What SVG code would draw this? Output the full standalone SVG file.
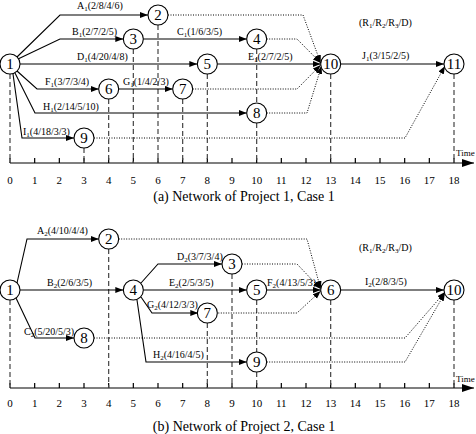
<svg xmlns="http://www.w3.org/2000/svg" width="476" height="434" viewBox="0 0 476 434">
<style>
text{font-family:"Liberation Serif","Times New Roman",serif;fill:#000}
.lbl{font-size:10px}
.sub{font-size:7px}
.num{font-size:15px;text-anchor:middle}
.tick{font-size:11px;text-anchor:middle}
.cap{font-size:14px;text-anchor:middle}
.time{font-size:9px}
circle{fill:#fff;stroke:#000;stroke-width:1.1}
.solid{fill:none;stroke:#000;stroke-width:1.1}
.dot{fill:none;stroke:#000;stroke-width:1;stroke-dasharray:1,1.5}
.dash{fill:none;stroke:#444;stroke-width:1.2;stroke-dasharray:5,3}
.axis{fill:none;stroke:#000;stroke-width:1.2}
</style>
<defs>
<marker id="ah" markerUnits="userSpaceOnUse" markerWidth="9" markerHeight="7" refX="8" refY="3" orient="auto"><path d="M0,0 L8,3 L0,6 z" fill="#000"/></marker>
<marker id="ax" markerUnits="userSpaceOnUse" markerWidth="13" markerHeight="9" refX="12" refY="4" orient="auto"><path d="M0,0 L12,4 L0,8 z" fill="#000"/></marker>
</defs>

<!-- ===== Diagram (a) ===== -->
<g id="axis-a">
<path class="axis" d="M10,163 L474,163" marker-end="url(#ax)"/>
<path class="axis" d="M10,158V163M34.67,158V163M59.33,158V163M84,158V163M108.67,158V163M133.33,158V163M158,158V163M182.67,158V163M207.33,158V163M232,158V163M256.67,158V163M281.33,158V163M306,158V163M330.67,158V163M355.33,158V163M380,158V163M404.67,158V163M429.33,158V163M454,158V163"/>
<text class="tick" x="10" y="184">0</text><text class="tick" x="34.67" y="184">1</text><text class="tick" x="59.33" y="184">2</text><text class="tick" x="84" y="184">3</text><text class="tick" x="108.67" y="184">4</text><text class="tick" x="133.33" y="184">5</text><text class="tick" x="158" y="184">6</text><text class="tick" x="182.67" y="184">7</text><text class="tick" x="207.33" y="184">8</text><text class="tick" x="232" y="184">9</text><text class="tick" x="256.67" y="184">10</text><text class="tick" x="281.33" y="184">11</text><text class="tick" x="306" y="184">12</text><text class="tick" x="330.67" y="184">13</text><text class="tick" x="355.33" y="184">14</text><text class="tick" x="380" y="184">15</text><text class="tick" x="404.67" y="184">16</text><text class="tick" x="429.33" y="184">17</text><text class="tick" x="454" y="184">18</text>
<text class="time" x="456" y="156">Time</text>
</g>
<g id="dashes-a">
<path class="dash" d="M10,74V163M84,148V163M108.67,99V163M133.33,49V163M158,25V163M182.67,99V163M207.33,74V163M256.67,49V103M256.67,123V163M330.67,74V163M454,74V163"/>
</g>
<g id="connectors-a">
<path class="solid" d="M17,57 L60,15 L148,15" marker-end="url(#ah)"/>
<path class="solid" d="M18,59 L60,39 L123.3,39" marker-end="url(#ah)"/>
<path class="solid" d="M20,64 L197.3,64" marker-end="url(#ah)"/>
<path class="solid" d="M17,71 L37,89 L98.7,89" marker-end="url(#ah)"/>
<path class="solid" d="M118.7,89 L172.7,89" marker-end="url(#ah)"/>
<path class="solid" d="M143.3,39 L246.7,39" marker-end="url(#ah)"/>
<path class="solid" d="M217.3,64 L320.7,64" marker-end="url(#ah)"/>
<path class="solid" d="M15,73 L35,113 L246.7,113" marker-end="url(#ah)"/>
<path class="solid" d="M13,74 L22,138 L74,138" marker-end="url(#ah)"/>
<path class="solid" d="M340.7,64 L444,64" marker-end="url(#ah)"/>
<path class="dot" d="M168,15 L303,15 L320.7,63" marker-end="url(#ah)"/>
<path class="dot" d="M266.7,39 L297,39 L320.7,63" marker-end="url(#ah)"/>
<path class="dot" d="M192.7,89 L297,89 L320.7,65" marker-end="url(#ah)"/>
<path class="dot" d="M266.7,113 L307,113 L321.5,66" marker-end="url(#ah)"/>
<path class="dot" d="M94,138 L405,138 L445,66" marker-end="url(#ah)"/>
</g>
<g id="labels-a">
<text class="lbl" x="77" y="9">A<tspan class="sub" dy="2">1</tspan><tspan dy="-2">(2/8/4/6)</tspan></text>
<text class="lbl" x="72" y="35">B<tspan class="sub" dy="2">1</tspan><tspan dy="-2">(2/7/2/5)</tspan></text>
<text class="lbl" x="177" y="35">C<tspan class="sub" dy="2">1</tspan><tspan dy="-2">(1/6/3/5)</tspan></text>
<text class="lbl" x="77" y="60">D<tspan class="sub" dy="2">1</tspan><tspan dy="-2">(4/20/4/8)</tspan></text>
<text class="lbl" x="248" y="60">E<tspan class="sub" dy="2">1</tspan><tspan dy="-2">(2/7/2/5)</tspan></text>
<text class="lbl" x="45" y="85">F<tspan class="sub" dy="2">1</tspan><tspan dy="-2">(3/7/3/4)</tspan></text>
<text class="lbl" x="123" y="85">G<tspan class="sub" dy="2">1</tspan><tspan dy="-2">(1/4/2/3)</tspan></text>
<text class="lbl" x="43" y="110">H<tspan class="sub" dy="2">1</tspan><tspan dy="-2">(2/14/5/10)</tspan></text>
<text class="lbl" x="23" y="135">I<tspan class="sub" dy="2">1</tspan><tspan dy="-2">(4/18/3/3)</tspan></text>
<text class="lbl" x="362" y="59">J<tspan class="sub" dy="2">1</tspan><tspan dy="-2">(3/15/2/5)</tspan></text>
<text class="lbl" x="359" y="26">(R<tspan class="sub" dy="2">1</tspan><tspan dy="-2">/R</tspan><tspan class="sub" dy="2">2</tspan><tspan dy="-2">/R</tspan><tspan class="sub" dy="2">3</tspan><tspan dy="-2">/D)</tspan></text>
</g>
<g id="a-n1"><circle cx="10" cy="64" r="10"/><text class="num" x="10" y="69">1</text></g>
<g id="a-n2"><circle cx="158" cy="15" r="10"/><text class="num" x="158" y="20">2</text></g>
<g id="a-n3"><circle cx="133.33" cy="39" r="10"/><text class="num" x="133.33" y="44">3</text></g>
<g id="a-n4"><circle cx="256.67" cy="39" r="10"/><text class="num" x="256.67" y="44">4</text></g>
<g id="a-n5"><circle cx="207.33" cy="64" r="10"/><text class="num" x="207.33" y="69">5</text></g>
<g id="a-n6"><circle cx="108.67" cy="89" r="10"/><text class="num" x="108.67" y="94">6</text></g>
<g id="a-n7"><circle cx="182.67" cy="89" r="10"/><text class="num" x="182.67" y="94">7</text></g>
<g id="a-n8"><circle cx="256.67" cy="113" r="10"/><text class="num" x="256.67" y="118">8</text></g>
<g id="a-n9"><circle cx="84" cy="138" r="10"/><text class="num" x="84" y="143">9</text></g>
<g id="a-n10"><circle cx="330.67" cy="64" r="10"/><text class="num" x="330.67" y="69">10</text></g>
<g id="a-n11"><circle cx="454" cy="64" r="10"/><text class="num" x="454" y="69">11</text></g>
<text class="cap" x="244" y="201">(a) Network of Project 1, Case 1</text>

<!-- ===== Diagram (b) ===== -->
<g id="axis-b">
<path class="axis" d="M10,388 L474,388" marker-end="url(#ax)"/>
<path class="axis" d="M10,383V388M34.67,383V388M59.33,383V388M84,383V388M108.67,383V388M133.33,383V388M158,383V388M182.67,383V388M207.33,383V388M232,383V388M256.67,383V388M281.33,383V388M306,383V388M330.67,383V388M355.33,383V388M380,383V388M404.67,383V388M429.33,383V388M454,383V388"/>
<text class="tick" x="10" y="407">0</text><text class="tick" x="34.67" y="407">1</text><text class="tick" x="59.33" y="407">2</text><text class="tick" x="84" y="407">3</text><text class="tick" x="108.67" y="407">4</text><text class="tick" x="133.33" y="407">5</text><text class="tick" x="158" y="407">6</text><text class="tick" x="182.67" y="407">7</text><text class="tick" x="207.33" y="407">8</text><text class="tick" x="232" y="407">9</text><text class="tick" x="256.67" y="407">10</text><text class="tick" x="281.33" y="407">11</text><text class="tick" x="306" y="407">12</text><text class="tick" x="330.67" y="407">13</text><text class="tick" x="355.33" y="407">14</text><text class="tick" x="380" y="407">15</text><text class="tick" x="404.67" y="407">16</text><text class="tick" x="429.33" y="407">17</text><text class="tick" x="454" y="407">18</text>
<text class="time" x="456" y="382">Time</text>
</g>
<g id="dashes-b">
<path class="dash" d="M10,300V388M108.67,249V388M207.33,323V388M232,274V388M256.67,300V352M256.67,372V388M330.67,300V388M454,300V388"/>
</g>
<g id="connectors-b">
<path class="solid" d="M17,283 L27,239 L98.7,239" marker-end="url(#ah)"/>
<path class="solid" d="M20,290 L123.3,290" marker-end="url(#ah)"/>
<path class="solid" d="M16,298 L35,338 L74,338" marker-end="url(#ah)"/>
<path class="solid" d="M141,283 L158,264 L222,264" marker-end="url(#ah)"/>
<path class="solid" d="M143.3,290 L246.7,290" marker-end="url(#ah)"/>
<path class="solid" d="M266.7,290 L320.7,290" marker-end="url(#ah)"/>
<path class="solid" d="M141,297 L152,313 L198.3,313" marker-end="url(#ah)"/>
<path class="solid" d="M137,300 L146,362 L246.7,362" marker-end="url(#ah)"/>
<path class="solid" d="M340.7,290 L444,290" marker-end="url(#ah)"/>
<path class="dot" d="M118.7,239 L307,239 L320.7,289" marker-end="url(#ah)"/>
<path class="dot" d="M242,264 L297,264 L320.7,289" marker-end="url(#ah)"/>
<path class="dot" d="M218.3,313 L297,313 L320.7,291" marker-end="url(#ah)"/>
<path class="dot" d="M94,338 L405,338 L445,292" marker-end="url(#ah)"/>
<path class="dot" d="M266.7,362 L405,362 L445,293" marker-end="url(#ah)"/>
</g>
<g id="labels-b">
<text class="lbl" x="37" y="234">A<tspan class="sub" dy="2">2</tspan><tspan dy="-2">(4/10/4/4)</tspan></text>
<text class="lbl" x="47" y="286">B<tspan class="sub" dy="2">2</tspan><tspan dy="-2">(2/6/3/5)</tspan></text>
<text class="lbl" x="24" y="335">C<tspan class="sub" dy="2">2</tspan><tspan dy="-2">(5/20/5/3)</tspan></text>
<text class="lbl" x="177" y="260">D<tspan class="sub" dy="2">2</tspan><tspan dy="-2">(3/7/3/4)</tspan></text>
<text class="lbl" x="169" y="286">E<tspan class="sub" dy="2">2</tspan><tspan dy="-2">(2/5/3/5)</tspan></text>
<text class="lbl" x="267" y="286">F<tspan class="sub" dy="2">2</tspan><tspan dy="-2">(4/13/5/3)</tspan></text>
<text class="lbl" x="147" y="308">G<tspan class="sub" dy="2">2</tspan><tspan dy="-2">(4/12/3/3)</tspan></text>
<text class="lbl" x="153" y="358">H<tspan class="sub" dy="2">2</tspan><tspan dy="-2">(4/16/4/5)</tspan></text>
<text class="lbl" x="365" y="285">I<tspan class="sub" dy="2">2</tspan><tspan dy="-2">(2/8/3/5)</tspan></text>
<text class="lbl" x="359" y="251">(R<tspan class="sub" dy="2">1</tspan><tspan dy="-2">/R</tspan><tspan class="sub" dy="2">2</tspan><tspan dy="-2">/R</tspan><tspan class="sub" dy="2">3</tspan><tspan dy="-2">/D)</tspan></text>
</g>
<g id="b-n1"><circle cx="10" cy="290" r="10"/><text class="num" x="10" y="295">1</text></g>
<g id="b-n2"><circle cx="108.67" cy="239" r="10"/><text class="num" x="108.67" y="244">2</text></g>
<g id="b-n3"><circle cx="232" cy="264" r="10"/><text class="num" x="232" y="269">3</text></g>
<g id="b-n4"><circle cx="133.33" cy="290" r="10"/><text class="num" x="133.33" y="295">4</text></g>
<g id="b-n5"><circle cx="256.67" cy="290" r="10"/><text class="num" x="256.67" y="295">5</text></g>
<g id="b-n6"><circle cx="330.67" cy="290" r="10"/><text class="num" x="330.67" y="295">6</text></g>
<g id="b-n7"><circle cx="207.33" cy="313" r="10"/><text class="num" x="207.33" y="318">7</text></g>
<g id="b-n8"><circle cx="84" cy="338" r="10"/><text class="num" x="84" y="343">8</text></g>
<g id="b-n9"><circle cx="256.67" cy="362" r="10"/><text class="num" x="256.67" y="367">9</text></g>
<g id="b-n10"><circle cx="454" cy="290" r="10"/><text class="num" x="454" y="295">10</text></g>
<text class="cap" x="244" y="431">(b) Network of Project 2, Case 1</text>
</svg>
